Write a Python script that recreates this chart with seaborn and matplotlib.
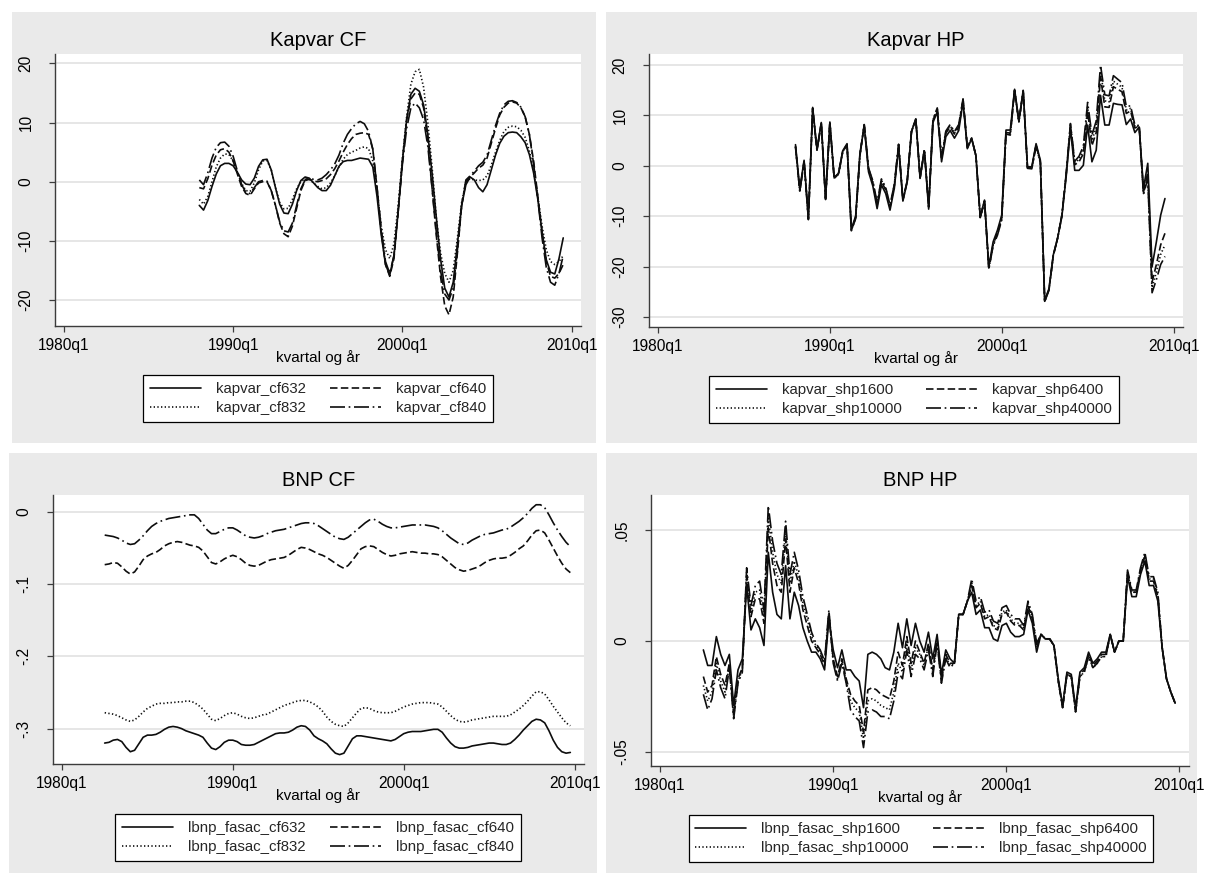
import numpy as np
import pandas as pd
import matplotlib
matplotlib.use("Agg")
import matplotlib.pyplot as plt
import seaborn as sns
from matplotlib.patches import Rectangle

sns.set_theme(style="white")
plt.rcParams["font.family"] = ["Liberation Sans", "DejaVu Sans"]

# ---------------------------------------------------------------- data
x_tick_pos = [0, 40, 80, 120]                       # quarters since 1980q1
x_tick_labels = ["1980q1", "1990q1", "2000q1", "2010q1"]

kapvar_span = ("1988Q1", "2009Q3")
bnp_span = ("1982Q3", "2009Q4")

kapvar_cf632 = [
    -4.0, -4.8, -3.2, -0.8, 1.3, 2.7, 3.1, 3.1, 2.7, 1.6, 0.3, -0.4,
    -0.5, 0.6, 2.6, 3.7, 3.8, 2.0, -1.0, -3.8, -5.3, -5.4, -3.8, -1.5,
    0.2, 0.8, 0.6, -0.2, -1.0, -1.5, -1.5, -0.6, 1.0, 2.6, 3.4, 3.6,
    3.6, 3.8, 4.0, 3.9, 3.8, 2.5, -2.5, -9.0, -14.0, -15.8, -12.5, -5.0,
    3.5, 10.5, 14.8, 15.8, 15.3, 13.0, 8.0, 1.5, -6.0, -13.0, -18.0, -19.5,
    -17.0, -10.5, -4.0, -0.5, 0.8, 0.3, -1.0, -1.7, -0.5, 2.0, 4.5, 6.5,
    7.7, 8.3, 8.4, 8.3, 7.6, 6.6, 4.6, 1.5, -3.0, -8.5, -13.2, -15.3,
    -15.6, -13.0, -9.5]
kapvar_cf640 = [
    -1.0, -1.2, 0.5, 2.8, 4.5, 5.4, 5.6, 5.0, 3.5, 1.3, -0.8, -2.0,
    -2.3, -1.2, -0.2, 0.0, 0.0, -1.5, -4.0, -7.0, -8.8, -9.3, -7.5, -4.5,
    -1.5, 0.2, 0.4, 0.1, 0.0, 0.2, 0.5, 1.2, 2.2, 3.5, 5.0, 6.3,
    7.3, 8.0, 8.2, 8.3, 8.0, 5.5, -1.0, -8.5, -14.0, -16.0, -13.0, -5.0,
    3.5, 10.5, 14.0, 15.0, 14.8, 12.5, 7.0, -1.0, -9.0, -16.0, -21.0, -22.5,
    -19.5, -12.0, -4.0, 0.0, 0.8, 1.5, 2.3, 2.8, 4.0, 6.5, 9.0, 11.3,
    12.6, 13.3, 13.5, 13.3, 12.5, 11.0, 8.0, 3.5, -2.5, -8.5, -13.5, -16.0,
    -16.3, -15.5, -14.0]
kapvar_cf832 = [
    -3.0, -3.8, -2.5, 0.0, 2.5, 4.0, 4.7, 4.6, 3.5, 1.6, -0.3, -1.5,
    -1.6, -0.2, 2.0, 3.5, 3.6, 2.0, -1.0, -3.5, -4.6, -4.5, -3.0, -1.2,
    0.0, 0.5, 0.4, -0.2, -0.8, -1.2, -1.0, -0.2, 1.0, 2.5, 3.8, 4.6,
    5.0, 5.3, 5.7, 5.9, 5.6, 3.5, -1.5, -7.5, -11.5, -13.0, -10.5, -4.0,
    4.0, 11.0, 16.5, 18.6, 19.0, 16.0, 10.0, 2.5, -6.0, -12.0, -15.5, -17.0,
    -15.0, -9.5, -3.5, 0.0, 0.5, 0.3, 0.2, 0.3, 1.0, 2.8, 5.0, 7.0,
    8.5, 9.2, 9.4, 9.3, 8.7, 7.5, 5.2, 1.8, -2.5, -7.5, -11.5, -13.5,
    -14.0, -13.5, -12.5]
kapvar_cf840 = [
    0.3, -0.5, 1.5, 4.0, 5.8, 6.6, 6.7, 6.0, 4.3, 1.8, -0.5, -1.8,
    -2.0, -1.0, 0.0, 0.2, 0.1, -1.5, -4.0, -6.8, -8.3, -8.5, -7.0, -4.0,
    -1.2, 0.3, 0.6, 0.4, 0.3, 0.6, 1.2, 2.0, 3.0, 4.5, 6.5, 8.0,
    9.0, 9.8, 10.2, 9.8, 8.5, 5.5, -1.0, -8.0, -13.5, -15.5, -12.5, -5.0,
    3.0, 9.0, 12.5, 13.3, 12.5, 10.5, 6.0, -1.0, -8.5, -15.0, -19.0, -20.0,
    -18.0, -11.5, -4.0, 0.3, 1.0, 1.8, 2.7, 3.3, 4.5, 7.0, 9.5, 11.6,
    13.0, 13.6, 13.7, 13.4, 12.6, 11.0, 8.0, 3.0, -3.0, -9.5, -14.5, -17.0,
    -17.5, -15.5, -12.5]

kapvar_shp1600 = [
    4.2, -4.6, 1.1, -10.3, 11.6, 3.3, 8.6, -6.5, 8.7, -2.3, -1.5, 3.0,
    4.4, -12.5, -10.0, 2.5, 7.9, -1.2, -4.0, -8.5, -3.8, -5.5, -8.8, -4.5,
    3.8, -7.0, -3.2, 6.8, 9.3, -2.5, 2.9, -8.6, 8.6, 10.7, 0.8, 5.8,
    7.0, 5.5, 7.0, 12.7, 3.4, 5.4, 2.0, -10.1, -6.8, -20.0, -15.1, -12.8,
    -9.8, 7.1, 7.1, 15.2, 8.9, 15.0, -0.2, -0.2, 4.4, 1.1, -26.7, -24.4,
    -17.7, -14.4, -10.1, -2.2, 7.4, -0.9, -0.9, 0.1, 8.1, 0.8, 3.1, 14.0,
    8.1, 8.1, 12.4, 12.2, 12.1, 8.2, 9.3, 6.6, 7.7, -4.5, 0.5, -20.0,
    -15.1, -9.8, -6.5]
kapvar_shp6400 = [
    3.9, -4.9, 0.9, -10.5, 11.4, 3.1, 8.5, -6.6, 8.6, -2.4, -1.6, 2.9,
    4.2, -12.7, -10.3, 2.2, 8.1, -0.7, -3.4, -7.8, -3.1, -4.8, -8.2, -4.0,
    4.1, -6.8, -3.1, 6.8, 9.3, -2.4, 3.1, -8.2, 9.0, 11.2, 1.4, 6.5,
    7.7, 6.3, 7.7, 13.1, 3.6, 5.5, 2.0, -10.2, -7.0, -20.3, -15.6, -13.4,
    -10.4, 6.6, 6.5, 15.0, 8.8, 14.9, -0.4, -0.4, 4.1, 0.8, -26.9, -24.6,
    -17.8, -14.4, -9.9, -1.8, 8.0, 0.2, 0.8, 2.4, 10.8, 4.0, 6.6, 17.6,
    11.7, 11.6, 15.7, 15.2, 14.7, 10.4, 10.9, 7.5, 7.9, -5.2, -1.3, -23.1,
    -19.6, -15.7, -13.4]
kapvar_shp10000 = [
    3.8, -5.0, 0.8, -10.6, 11.4, 3.1, 8.4, -6.7, 8.5, -2.5, -1.7, 2.8,
    4.2, -12.8, -10.4, 2.1, 8.1, -0.6, -3.2, -7.5, -2.8, -4.5, -8.0, -3.9,
    4.2, -6.8, -3.0, 6.8, 9.3, -2.3, 3.2, -8.1, 9.1, 11.3, 1.6, 6.7,
    8.0, 6.5, 8.0, 13.2, 3.6, 5.5, 2.0, -10.3, -7.0, -20.4, -15.7, -13.6,
    -10.6, 6.5, 6.3, 15.0, 8.7, 14.8, -0.4, -0.5, 4.0, 0.7, -26.9, -24.6,
    -17.9, -14.4, -9.9, -1.7, 8.2, 0.5, 1.3, 3.1, 11.7, 5.0, 7.7, 18.8,
    12.9, 12.7, 16.8, 16.2, 15.6, 11.1, 11.4, 7.8, 7.9, -5.5, -1.9, -24.2,
    -21.1, -17.6, -15.7]
kapvar_shp40000 = [
    3.7, -5.1, 0.7, -10.7, 11.3, 3.0, 8.4, -6.7, 8.5, -2.5, -1.7, 2.8,
    4.1, -12.9, -10.5, 2.0, 8.2, -0.4, -3.0, -7.3, -2.6, -4.3, -7.8, -3.7,
    4.3, -6.7, -3.0, 6.8, 9.3, -2.3, 3.3, -8.0, 9.2, 11.5, 1.8, 6.9,
    8.2, 6.8, 8.2, 13.3, 3.7, 5.5, 2.0, -10.3, -7.1, -20.5, -15.9, -13.8,
    -10.8, 6.3, 6.1, 14.9, 8.7, 14.8, -0.5, -0.6, 3.9, 0.6, -27.0, -24.7,
    -17.9, -14.4, -9.8, -1.6, 8.4, 0.9, 1.9, 3.9, 12.6, 6.1, 8.9, 20.0,
    14.1, 13.9, 17.9, 17.2, 16.5, 11.8, 11.9, 8.1, 8.0, -5.7, -2.5, -25.2,
    -22.6, -19.6, -18.0]

lbnp_fasac_cf632 = [
    -0.320, -0.319,
    -0.316, -0.315, -0.318, -0.326, -0.332, -0.330, -0.321, -0.312,
    -0.309, -0.309, -0.308, -0.305, -0.301, -0.298, -0.297, -0.298,
    -0.300, -0.303, -0.305, -0.307, -0.309, -0.312, -0.320, -0.327,
    -0.329, -0.325, -0.319, -0.316, -0.316, -0.318, -0.322, -0.323,
    -0.323, -0.322, -0.319, -0.316, -0.313, -0.310, -0.307, -0.306,
    -0.306, -0.305, -0.302, -0.298, -0.296, -0.297, -0.302, -0.310,
    -0.314, -0.317, -0.321, -0.328, -0.334, -0.336, -0.334, -0.324,
    -0.314, -0.310, -0.310, -0.311, -0.312, -0.313, -0.314, -0.315,
    -0.316, -0.317, -0.315, -0.311, -0.307, -0.305, -0.304, -0.304,
    -0.304, -0.303, -0.302, -0.301, -0.301, -0.305, -0.313, -0.320,
    -0.325, -0.327, -0.327, -0.326, -0.324, -0.323, -0.322, -0.321,
    -0.320, -0.320, -0.321, -0.322, -0.322, -0.320, -0.315, -0.309,
    -0.302, -0.296, -0.290, -0.287, -0.288, -0.292, -0.303, -0.316,
    -0.326, -0.332, -0.334, -0.333]
lbnp_fasac_cf640 = [
    -0.073, -0.072,
    -0.070, -0.071, -0.076, -0.082, -0.086, -0.083, -0.075, -0.066,
    -0.061, -0.058, -0.056, -0.052, -0.047, -0.044, -0.042, -0.041,
    -0.042, -0.044, -0.046, -0.047, -0.049, -0.054, -0.062, -0.070,
    -0.072, -0.069, -0.065, -0.062, -0.060, -0.062, -0.066, -0.071,
    -0.074, -0.075, -0.074, -0.071, -0.068, -0.066, -0.065, -0.064,
    -0.063, -0.060, -0.056, -0.052, -0.049, -0.050, -0.052, -0.055,
    -0.058, -0.060, -0.063, -0.067, -0.071, -0.075, -0.078, -0.074,
    -0.067, -0.059, -0.051, -0.048, -0.047, -0.048, -0.052, -0.056,
    -0.059, -0.061, -0.060, -0.058, -0.057, -0.056, -0.055, -0.056,
    -0.057, -0.057, -0.058, -0.058, -0.059, -0.062, -0.067, -0.072,
    -0.077, -0.080, -0.082, -0.081, -0.079, -0.077, -0.074, -0.070,
    -0.067, -0.065, -0.064, -0.064, -0.063, -0.060, -0.056, -0.051,
    -0.047, -0.040, -0.032, -0.026, -0.025, -0.029, -0.039, -0.050,
    -0.061, -0.071, -0.079, -0.084]
lbnp_fasac_cf832 = [
    -0.278, -0.279,
    -0.280, -0.282, -0.285, -0.288, -0.290, -0.288, -0.283, -0.277,
    -0.272, -0.269, -0.266, -0.265, -0.265, -0.264, -0.264, -0.263,
    -0.263, -0.262, -0.262, -0.264, -0.268, -0.273, -0.280, -0.287,
    -0.289, -0.286, -0.282, -0.279, -0.278, -0.280, -0.283, -0.285,
    -0.286, -0.285, -0.283, -0.281, -0.280, -0.277, -0.274, -0.271,
    -0.268, -0.266, -0.264, -0.262, -0.261, -0.261, -0.263, -0.266,
    -0.270, -0.276, -0.284, -0.290, -0.294, -0.296, -0.297, -0.292,
    -0.285, -0.278, -0.272, -0.271, -0.272, -0.275, -0.277, -0.278,
    -0.278, -0.278, -0.276, -0.273, -0.270, -0.268, -0.266, -0.265,
    -0.264, -0.264, -0.264, -0.265, -0.266, -0.270, -0.276, -0.282,
    -0.287, -0.290, -0.291, -0.290, -0.288, -0.287, -0.286, -0.285,
    -0.284, -0.283, -0.283, -0.283, -0.283, -0.281, -0.277, -0.273,
    -0.268, -0.262, -0.255, -0.249, -0.249, -0.252, -0.260, -0.269,
    -0.277, -0.285, -0.292, -0.296]
lbnp_fasac_cf840 = [
    -0.032, -0.033,
    -0.034, -0.036, -0.039, -0.043, -0.045, -0.044, -0.039, -0.033,
    -0.026, -0.020, -0.016, -0.013, -0.011, -0.009, -0.008, -0.007,
    -0.006, -0.005, -0.004, -0.004, -0.009, -0.017, -0.025, -0.030,
    -0.030, -0.027, -0.024, -0.022, -0.022, -0.025, -0.029, -0.033,
    -0.035, -0.036, -0.035, -0.033, -0.030, -0.028, -0.026, -0.025,
    -0.024, -0.022, -0.020, -0.018, -0.016, -0.015, -0.015, -0.016,
    -0.019, -0.023, -0.027, -0.031, -0.035, -0.037, -0.038, -0.035,
    -0.030, -0.025, -0.020, -0.015, -0.011, -0.010, -0.013, -0.017,
    -0.020, -0.022, -0.022, -0.021, -0.020, -0.019, -0.018, -0.018,
    -0.018, -0.018, -0.019, -0.020, -0.022, -0.026, -0.031, -0.036,
    -0.040, -0.044, -0.045, -0.043, -0.039, -0.036, -0.033, -0.031,
    -0.030, -0.029, -0.027, -0.025, -0.024, -0.021, -0.017, -0.013,
    -0.008, -0.002, 0.005, 0.010, 0.010, 0.006, -0.004, -0.015,
    -0.025, -0.034, -0.042, -0.048]

lbnp_fasac_shp1600 = [
    -0.004, -0.011,
    -0.011, 0.002, -0.006, -0.011, -0.006, -0.029, -0.013, -0.008,
    0.025, 0.005, 0.010, 0.006, -0.002, 0.040, 0.022, 0.012,
    0.010, 0.034, 0.010, 0.022, 0.016, 0.006, 0.000, -0.005,
    -0.005, -0.008, -0.013, 0.010, -0.004, -0.012, -0.004, -0.013,
    -0.013, -0.016, -0.018, -0.030, -0.006, -0.005, -0.006, -0.008,
    -0.012, -0.013, -0.005, 0.008, -0.003, 0.010, -0.002, 0.008,
    0.000, -0.005, 0.004, -0.008, 0.003, -0.015, -0.004, -0.008,
    -0.010, 0.012, 0.012, 0.018, 0.022, 0.012, 0.014, 0.006,
    0.006, 0.001, 0.000, 0.007, 0.008, 0.004, 0.002, 0.002,
    0.003, 0.014, 0.008, -0.005, 0.003, 0.001, 0.001, -0.002,
    -0.017, -0.029, -0.014, -0.015, -0.030, -0.014, -0.012, -0.005,
    -0.010, -0.008, -0.005, -0.005, 0.003, -0.005, 0.000, 0.000,
    0.029, 0.020, 0.020, 0.030, 0.036, 0.025, 0.025, 0.018,
    -0.003, -0.017, -0.023, -0.028]
lbnp_fasac_shp6400 = [
    -0.016, -0.023,
    -0.020, -0.007, -0.015, -0.020, -0.010, -0.033, -0.017, -0.012,
    0.029, 0.011, 0.019, 0.019, 0.008, 0.051, 0.035, 0.025,
    0.022, 0.046, 0.022, 0.033, 0.026, 0.014, 0.007, 0.000,
    -0.003, -0.006, -0.011, 0.012, -0.008, -0.016, -0.008, -0.017,
    -0.024, -0.027, -0.029, -0.041, -0.022, -0.021, -0.022, -0.024,
    -0.025, -0.026, -0.018, -0.005, -0.011, 0.002, -0.010, 0.000,
    -0.005, -0.010, -0.001, -0.013, 0.001, -0.017, -0.006, -0.010,
    -0.010, 0.012, 0.012, 0.018, 0.025, 0.015, 0.017, 0.010,
    0.011, 0.006, 0.005, 0.012, 0.013, 0.009, 0.007, 0.007,
    0.005, 0.016, 0.010, -0.003, 0.003, 0.001, 0.001, -0.002,
    -0.018, -0.030, -0.015, -0.016, -0.031, -0.015, -0.013, -0.006,
    -0.011, -0.009, -0.006, -0.006, 0.003, -0.005, 0.000, 0.000,
    0.031, 0.022, 0.022, 0.032, 0.038, 0.027, 0.027, 0.020,
    -0.003, -0.017, -0.023, -0.028]
lbnp_fasac_shp10000 = [
    -0.020, -0.027,
    -0.023, -0.010, -0.018, -0.023, -0.011, -0.034, -0.018, -0.013,
    0.031, 0.013, 0.022, 0.023, 0.011, 0.056, 0.040, 0.030,
    0.026, 0.050, 0.026, 0.036, 0.029, 0.017, 0.010, 0.002,
    -0.002, -0.005, -0.010, 0.013, -0.009, -0.017, -0.009, -0.018,
    -0.027, -0.030, -0.032, -0.044, -0.027, -0.026, -0.027, -0.029,
    -0.030, -0.031, -0.023, -0.010, -0.014, -0.001, -0.013, -0.003,
    -0.006, -0.011, -0.002, -0.014, 0.000, -0.018, -0.007, -0.011,
    -0.010, 0.012, 0.012, 0.018, 0.026, 0.016, 0.018, 0.011,
    0.012, 0.007, 0.006, 0.013, 0.014, 0.010, 0.008, 0.008,
    0.006, 0.017, 0.011, -0.002, 0.003, 0.001, 0.001, -0.002,
    -0.018, -0.030, -0.015, -0.016, -0.032, -0.016, -0.014, -0.007,
    -0.012, -0.010, -0.007, -0.007, 0.003, -0.005, 0.000, 0.000,
    0.031, 0.022, 0.022, 0.032, 0.039, 0.028, 0.028, 0.021,
    -0.003, -0.017, -0.023, -0.028]
lbnp_fasac_shp40000 = [
    -0.024, -0.031,
    -0.026, -0.013, -0.021, -0.026, -0.012, -0.035, -0.019, -0.014,
    0.033, 0.016, 0.025, 0.027, 0.014, 0.061, 0.045, 0.035,
    0.030, 0.054, 0.030, 0.040, 0.032, 0.020, 0.012, 0.004,
    -0.001, -0.004, -0.009, 0.014, -0.010, -0.018, -0.010, -0.019,
    -0.031, -0.034, -0.036, -0.048, -0.032, -0.031, -0.032, -0.034,
    -0.034, -0.035, -0.027, -0.014, -0.017, -0.004, -0.016, -0.006,
    -0.008, -0.013, -0.004, -0.016, -0.001, -0.019, -0.008, -0.012,
    -0.010, 0.012, 0.012, 0.018, 0.028, 0.018, 0.020, 0.013,
    0.014, 0.009, 0.008, 0.015, 0.016, 0.012, 0.010, 0.010,
    0.007, 0.018, 0.012, -0.001, 0.003, 0.001, 0.001, -0.002,
    -0.018, -0.030, -0.015, -0.016, -0.032, -0.016, -0.014, -0.007,
    -0.012, -0.010, -0.007, -0.007, 0.003, -0.005, 0.000, 0.000,
    0.032, 0.023, 0.023, 0.033, 0.040, 0.029, 0.029, 0.022,
    -0.003, -0.017, -0.023, -0.028]


def quarter_index(span):
    per = pd.period_range(span[0], span[1], freq="Q")
    return np.asarray((per.year - 1980) * 4 + (per.quarter - 1))


# ---------------------------------------------------------------- layout
W, H = 1207, 876
fig = plt.figure(figsize=(W / 100, H / 100), dpi=100)
fig.patch.set_facecolor("white")

PANEL_BG = "#EAEAEA"
INK = "#0d0d0d"
AXIS = "#3c3c3c"
GRID = "#E4E4E4"
LW = 1.2

STYLES = {
    "solid": "-",
    "dash": (0, (4.5, 2.0)),
    "dot": (0, (0.8, 1.4)),
    "dashdot": (0, (9, 2.2, 1.0, 2.2)),
}


def fig_box(x0, y0, x1, y1):
    return [x0 / W, 1 - y1 / H, (x1 - x0) / W, (y1 - y0) / H]


def draw_panel(panel, plot, title, yticks, ylabels, ylim, span, series, legend_c):
    px0, py0, px1, py1 = panel
    fig.add_artist(Rectangle((px0 / W, 1 - py1 / H), (px1 - px0) / W, (py1 - py0) / H,
                             transform=fig.transFigure, facecolor=PANEL_BG,
                             edgecolor="none", zorder=-10))
    ax = fig.add_axes(fig_box(*plot))
    ax.set_facecolor("white")
    x = quarter_index(span)
    for name, vals, style in series:
        assert len(vals) == len(x), name
        sns.lineplot(x=x, y=np.asarray(vals, float), ax=ax, color=INK, lw=LW,
                     linestyle=STYLES[style], label=name, estimator=None,
                     sort=False, legend=False)
    ax.set_xlim(-2.1, 122.2)
    ax.set_ylim(*ylim)
    ax.set_xticks(x_tick_pos)
    ax.set_xticklabels(x_tick_labels)
    ax.set_yticks(yticks)
    ax.set_yticklabels(ylabels, rotation=90, va="center")
    ax.set_xlabel("")
    ax.set_ylabel("")
    for s in ("top", "right"):
        ax.spines[s].set_visible(False)
    for s in ("left", "bottom"):
        ax.spines[s].set_color(AXIS)
        ax.spines[s].set_linewidth(1.0)
    ax.tick_params(axis="both", which="major", bottom=True, left=True,
                   direction="out", length=4.5, width=0.9, color=AXIS,
                   labelsize=11.2, labelcolor="black")
    ax.tick_params(axis="y", pad=11)
    ax.tick_params(axis="x", pad=4)
    ax.yaxis.grid(True, color=GRID, lw=1.3)
    ax.xaxis.grid(False)
    ax.set_axisbelow(True)

    cx = (plot[0] + plot[2]) / 2
    fig.text(cx / W, 1 - (plot[1] - 14) / H, title, ha="center", va="center",
             fontsize=14.5, color="black")
    fig.text(cx / W, 1 - (plot[3] + 32) / H, "kvartal og år", ha="center",
             va="center", fontsize=11, color="black")

    handles, labels = ax.get_legend_handles_labels()
    order = [0, 2, 1, 3]
    leg = ax.legend([handles[i] for i in order], [labels[i] for i in order],
                    ncol=2, loc="center",
                    bbox_to_anchor=(legend_c[0] / W, 1 - legend_c[1] / H),
                    bbox_transform=fig.transFigure, frameon=True, fancybox=False,
                    edgecolor="black", facecolor="white", framealpha=1,
                    fontsize=10.8, handlelength=3.4, handletextpad=1.0,
                    columnspacing=1.6, labelspacing=0.35, borderpad=0.45)
    leg.get_frame().set_linewidth(0.9)
    return ax


draw_panel((12, 12, 596, 443), (55, 54, 581, 326), "Kapvar CF",
           [20, 10, 0, -10, -20], ["20", "10", "0", "-10", "-20"], (-24.4, 21.6),
           kapvar_span,
           [("kapvar_cf632", kapvar_cf632, "solid"),
            ("kapvar_cf640", kapvar_cf640, "dash"),
            ("kapvar_cf832", kapvar_cf832, "dot"),
            ("kapvar_cf840", kapvar_cf840, "dashdot")],
           (318, 398.5))

draw_panel((606, 12, 1197, 443), (649, 54, 1183, 327), "Kapvar HP",
           [20, 10, 0, -10, -20, -30], ["20", "10", "0", "-10", "-20", "-30"],
           (-32.0, 22.2), kapvar_span,
           [("kapvar_shp1600", kapvar_shp1600, "solid"),
            ("kapvar_shp6400", kapvar_shp6400, "dash"),
            ("kapvar_shp10000", kapvar_shp10000, "dot"),
            ("kapvar_shp40000", kapvar_shp40000, "dashdot")],
           (914, 399.5))

draw_panel((9, 453, 597, 873), (53, 495, 584, 764), "BNP CF",
           [0, -0.1, -0.2, -0.3], ["0", "-.1", "-.2", "-.3"], (-0.349, 0.0235),
           bnp_span,
           [("lbnp_fasac_cf632", lbnp_fasac_cf632, "solid"),
            ("lbnp_fasac_cf640", lbnp_fasac_cf640, "dash"),
            ("lbnp_fasac_cf832", lbnp_fasac_cf832, "dot"),
            ("lbnp_fasac_cf840", lbnp_fasac_cf840, "dashdot")],
           (318, 837.5))

draw_panel((606, 453, 1197, 873), (651, 495, 1189, 766), "BNP HP",
           [0.05, 0, -0.05], [".05", "0", "-.05"], (-0.0563, 0.0658),
           bnp_span,
           [("lbnp_fasac_shp1600", lbnp_fasac_shp1600, "solid"),
            ("lbnp_fasac_shp6400", lbnp_fasac_shp6400, "dash"),
            ("lbnp_fasac_shp10000", lbnp_fasac_shp10000, "dot"),
            ("lbnp_fasac_shp40000", lbnp_fasac_shp40000, "dashdot")],
           (921, 838.5))

fig.savefig("out.png", dpi=100, facecolor="white")
